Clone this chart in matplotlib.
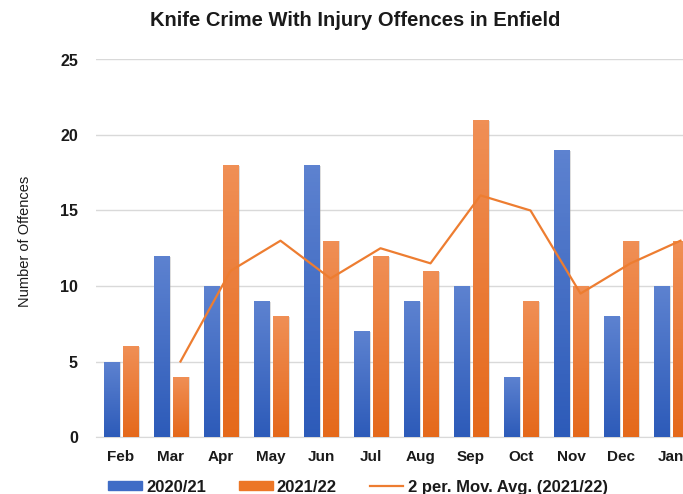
import numpy as np
import matplotlib.pyplot as plt
import matplotlib.colors as mcolors
from matplotlib.patches import Patch
from matplotlib.lines import Line2D

months = ['Feb', 'Mar', 'Apr', 'May', 'Jun', 'Jul', 'Aug', 'Sep', 'Oct', 'Nov', 'Dec', 'Jan']
y2020 = [5, 12, 10, 9, 18, 7, 9, 10, 4, 19, 8, 10]
y2021 = [6, 4, 18, 8, 13, 12, 11, 21, 9, 10, 13, 13]
# 2 period moving average, starts at Mar
mov_avg = [5, 11, 13, 10.5, 12.5, 11.5, 16, 15, 9.5, 11.5, 13]

blue_top, blue_bot = '#5d82d0', '#2d5bb9'
orange_top, orange_bot = '#f08f55', '#e5691b'
line_col = '#ed7d31'

plt.rcParams['font.family'] = ['Liberation Sans', 'DejaVu Sans']

fig = plt.figure(figsize=(6.83, 4.94), dpi=100)
ax = fig.add_axes([96/683, 57/494, 600/683, 377.5/494])

x = np.arange(len(months))
w = 0.32
off = 0.19


def grad_bars(xs, vals, top, bot):
    bars = ax.bar(xs, vals, w, color='none', zorder=3)
    cmap = mcolors.LinearSegmentedColormap.from_list('g', [bot, top])
    grad = np.linspace(0, 1, 64).reshape(-1, 1)
    for b in bars:
        # soft shadow on the right side
        ax.add_patch(plt.Rectangle((b.get_x() + 0.03, 0), b.get_width(), b.get_height() - 0.05,
                                   color='#a0a0a0', alpha=0.35, lw=0, zorder=2))
        im = ax.imshow(grad, cmap=cmap, origin='lower', aspect='auto', zorder=3,
                       extent=[b.get_x(), b.get_x() + b.get_width(), 0, b.get_height()])
        im.set_clip_path(b)
    return bars


grad_bars(x - off, y2020, blue_top, blue_bot)
grad_bars(x + off, y2021, orange_top, orange_bot)
ax.plot(x[1:] + off, mov_avg, color=line_col, lw=1.6, zorder=4)

ax.set_xlim(-0.5, 11.5)
ax.set_ylim(0, 25)
ax.set_yticks(range(0, 26, 5))
ax.set_xticks(x)
ax.set_xticklabels(months)
ax.grid(axis='y', color='#d9d9d9', lw=1, zorder=0)
ax.set_axisbelow(True)
for s in ['top', 'right', 'left']:
    ax.spines[s].set_visible(False)
ax.spines['bottom'].set_color('#d9d9d9')
ax.tick_params(length=0, labelsize=11.5, colors='#1a1a1a')
ax.tick_params(axis='x', pad=9, labelsize=11)
ax.tick_params(axis='y', pad=13)
for t in ax.get_xticklabels() + ax.get_yticklabels():
    t.set_fontweight('bold')

fig.text(25/683, 1 - 241/494, 'Number of Offences', rotation=90, ha='center', va='center',
         fontsize=10.5, family=['Liberation Sans Narrow', 'Liberation Sans', 'DejaVu Sans'],
         color='#1a1a1a')
fig.text(355/683, 1 - 21/494, 'Knife Crime With Injury Offences in Enfield', ha='center',
         va='center', fontsize=14.5, fontweight='bold', color='#1a1a1a')

handles = [Patch(color='#3f6cc6'), Patch(color='#ec7626'), Line2D([], [], color=line_col, lw=1.6)]
labels = ['2020/21', '2021/22', '2 per. Mov. Avg. (2021/22)']
leg = fig.legend(handles, labels, loc='center', bbox_to_anchor=(358/683, 1 - 487/494), ncol=3,
                 frameon=False, handlelength=2.0, handleheight=0.4, columnspacing=2.0,
                 handletextpad=0.25, borderpad=0, prop={'weight': 'bold', 'size': 12})
for t in leg.get_texts():
    t.set_color('#1a1a1a')

fig.savefig('out.png', dpi=100)
